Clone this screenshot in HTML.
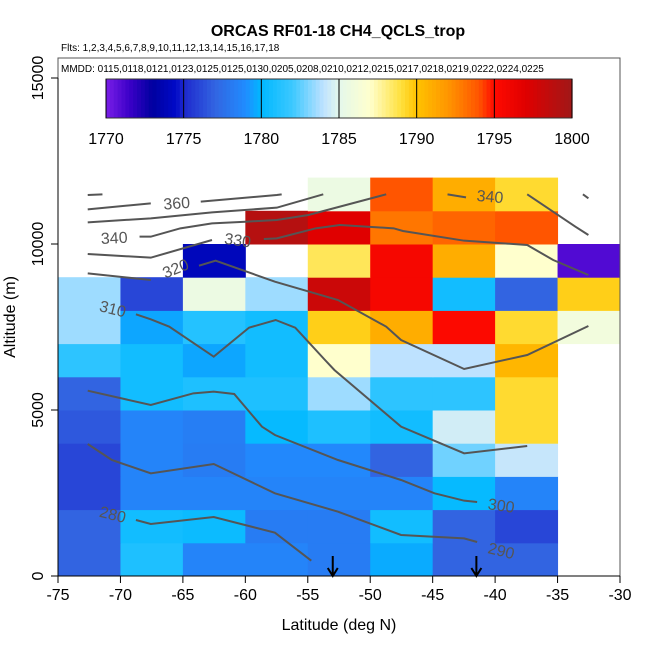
<!DOCTYPE html>
<html><head><meta charset="utf-8"><style>
body{margin:0;background:#fff;}
svg{display:block;font-family:"Liberation Sans",sans-serif;}
</style></head><body>
<svg id="chart" width="650" height="650" xmlns="http://www.w3.org/2000/svg">
<rect width="650" height="650" fill="#fff"/>
<text x="338" y="36" text-anchor="middle" font-size="16" font-weight="bold">ORCAS RF01-18 CH4_QCLS_trop</text>
<text x="61" y="51" font-size="10">Flts: 1,2,3,4,5,6,7,8,9,10,11,12,13,14,15,16,17,18</text>
<g id="cells"></g>
<g id="contours"></g>
<rect x="58" y="58" width="562" height="518" fill="none" stroke="#555" stroke-width="1"/>
<text x="61" y="72" font-size="10">MMDD: 0115,0118,0121,0123,0125,0125,0130,0205,0208,0210,0212,0215,0217,0218,0219,0222,0224,0225</text>
<g id="colorbar"></g>
<g id="axes"></g>
<text x="339" y="630" text-anchor="middle" font-size="16">Latitude (deg N)</text>
<text transform="translate(15,317) rotate(-90)" text-anchor="middle" font-size="16">Altitude (m)</text>
</svg>
<script>
const latBins = [-75,-70,-65,-60,-55,-50,-45,-40,-35];
const altBins = [0,1000,2000,3000,4000,5000,6000,7000,8000,9000,10000,11000];
// rows bottom (0-1km) to top (11-12km); null = no data
const ch4Rows = [
 [1777,1781,1778.6,1778.6,1778.2,1779.7,1777,1777,null],
 [1777,1780.6,1780.4,1778.2,1778.2,1780.6,1777,1776,null],
 [1776,1778.6,1778.6,1778.6,1778.6,1778.6,1780.2,1778.6,null],
 [1776,1778.6,1778.2,1778.8,1778.8,1777,1782.8,1784.2,null],
 [1776.6,1778.6,1778.3,1780.2,1781,1780.6,1784.5,1789.2,null],
 [1777,1780.6,1781,1781,1783.5,1781.5,1781.5,1789.2,null],
 [1781.5,1780.6,1779.6,1780.6,1787,1784,1784,1790.6,null],
 [1783.5,1779.6,1781.2,1780.6,1789.6,1791,1795.2,1789.2,1786],
 [1783.5,1776,1785.6,1783.5,1798,1795.6,1780.6,1777,1789.6],
 [null,null,1774,null,1788.6,1795.6,1791,1787,1771],
 [null,null,null,1799,1797,1793,1793.5,1794,null],
 [null,null,null,null,1785.6,1794,1791,1789.2,null]
];
const cbTicks = [1770,1775,1780,1785,1790,1795,1800];
const xTicks = [-75,-70,-65,-60,-55,-50,-45,-40,-35,-30];
const yTicks = [0,5000,10000,15000];
const arrowLats = [-53.0,-41.5];
const contourLines = [
 [[-72.62,11476],[-71.44,11496]],
 [[-72.62,11044],[-67.57,11225]],
 [[-63.57,11275],[-57.48,11476],[-57.09,11496]],
 [[-72.62,10652],[-67.57,10773],[-62.67,10954],[-57.48,11094],[-53.76,11496]],
 [[-68.47,10221],[-67.57,10221],[-65.2,10472],[-62.67,10622],[-60,10672],[-57.48,10723],[-54.95,10873],[-48.72,11496]],
 [[-72.62,9699],[-67.57,9588],[-62.67,10120]],
 [[-58.52,10150],[-57.48,10170],[-54.36,10472],[-52.43,10572],[-48.12,10472],[-47.38,10391],[-42.48,10100],[-37.43,9970],[-35.35,9518],[-32.53,9066]],
 [[-72.62,9116],[-67.57,8915]],
 [[-63.71,9347],[-62.38,9498],[-57.63,8865],[-52.58,8313],[-48.72,7510],[-47.53,7108],[-42.48,6235],[-37.43,6657],[-32.53,7530]],
 [[-68.76,7882],[-67.57,7731],[-66.09,7510],[-62.53,6606],[-59.7,7480],[-57.57,7711],[-56.0,7480],[-53.62,6506],[-52.87,6205],[-47.53,4498],[-42.48,3695],[-37.43,3916]],
 [[-72.62,5582],[-67.57,5150],[-64.16,5502],[-62.53,5552],[-60.89,5482],[-58.67,4498],[-57.63,4247],[-52.58,3494],[-47.53,2892],[-44.85,2490],[-42.48,2269],[-41.44,2229]],
 [[-72.62,3976],[-70.69,3494],[-67.57,3092],[-62.53,3373],[-57.63,2490],[-52.58,1938],[-47.53,1235],[-42.48,1134],[-41.44,1024]],
 [[-68.76,1687],[-67.57,1566],[-62.53,1777],[-57.63,1305],[-54.72,462]],
 [[-43.81,11496],[-42.33,11405]],
 [[-37.43,11496],[-33.57,10522],[-32.53,10271]],
 [[-32.97,11496],[-32.53,11375]]
];
const contourLabels = ["360","340","330","320","310","300","290","280","340"];
const labelPos = [[-65.5,11245,-4],[-70.5,10200,-3],[-60.6,10130,8],[-65.6,9276,-22],[-70.6,8062,14],[-39.5,2138,8],[-39.5,776,14],[-70.6,1868,14],[-40.4,11445,5]];

const NS="http://www.w3.org/2000/svg";
const X0=58,X1=620,Y0=576,Y1=78;
const xs = v => X0+(v+75)/45*(X1-X0);
const ys = v => Y0-v/15000*(Y0-Y1);
function mk(tag,attrs,parent){const e=document.createElementNS(NS,tag);for(const k in attrs)e.setAttribute(k,attrs[k]);parent.appendChild(e);return e;}
const stops=[[1770,[122,30,232]],[1771.5,[60,0,200]],[1773,[0,0,160]],[1774.5,[0,10,200]],[1775,[30,40,205]],[1777,[50,100,225]],[1779,[32,140,255]],[1780,[0,184,255]],[1782,[60,200,255]],[1784,[190,226,255]],[1785,[228,248,236]],[1787,[255,255,205]],[1789,[255,224,60]],[1790,[255,195,0]],[1792,[255,150,0]],[1794,[255,85,0]],[1795,[255,10,0]],[1797,[224,0,0]],[1800,[160,24,24]]];
function cmap(v){if(v<=stops[0][0])return 'rgb('+stops[0][1]+')';for(let i=1;i<stops.length;i++){if(v<=stops[i][0]){const a=stops[i-1],b=stops[i],t=(v-a[0])/(b[0]-a[0]);return 'rgb('+a[1].map((c,j)=>Math.round(c+(b[1][j]-c)*t)).join(',')+')';}}return 'rgb('+stops[stops.length-1][1]+')';}

const cells=document.getElementById('cells');
ch4Rows.forEach((row,r)=>row.forEach((v,c)=>{
 if(v===null)return;
 const x=xs(latBins[c]),x2=xs(latBins[c]+5),y=ys(altBins[r]+1000),y2=ys(altBins[r]);
 const e=mk('rect',{x:x,y:y,width:x2-x+0.5,height:y2-y+0.5,fill:cmap(v)},cells);
 
 
}));
const cg=document.getElementById('contours');
contourLines.forEach(l=>{
 const e=mk('polyline',{points:l.map(p=>xs(p[0])+','+ys(p[1])).join(' '),fill:'none',stroke:'#555','stroke-width':2},cg);
 
 
});
contourLabels.forEach((t,i)=>{
 const p=labelPos[i],x=xs(p[0]),y=ys(p[1]);
 const e=mk('text',{x:x,y:y+6,'text-anchor':'middle','font-size':16,fill:'#555',transform:'rotate('+p[2]+' '+x+' '+y+')'},cg);
 e.textContent=t;
 
 
});
arrowLats.forEach(a=>{
 const x=xs(a);
 const e=mk('path',{d:'M'+x+' 556 V575 M'+(x-5)+' 568 L'+x+' 576 L'+(x+5)+' 568',stroke:'#000','stroke-width':2,fill:'none'},cg);
 
 
});
// colorbar
const cb=document.getElementById('colorbar');
const CB0=106,CB1=572,CBT=79,CBB=118;
const cbx=v=>CB0+(v-1770)/30*(CB1-CB0);
for(let v=1770;v<1800;v+=0.25){
 const e=mk('rect',{x:cbx(v),y:CBT,width:(CB1-CB0)/120+0.6,height:CBB-CBT,fill:cmap(v+0.125)},cb);
 
 
}
const cbf=mk('rect',{x:CB0,y:CBT,width:CB1-CB0,height:CBB-CBT,fill:'none',stroke:'#333'},cb);


cbTicks.forEach(v=>{
 const l=mk('line',{x1:cbx(v),x2:cbx(v),y1:CBT,y2:CBB,stroke:'#000'},cb);
 
 
 const t=mk('text',{x:cbx(v),y:144,'text-anchor':'middle','font-size':16},cb);
 t.textContent=v;
 
 
});
// axes
const ax=document.getElementById('axes');
const xl=mk('line',{x1:X0,x2:X1,y1:576,y2:576,stroke:'#000'},ax);


xTicks.forEach(v=>{
 const l=mk('line',{x1:xs(v),x2:xs(v),y1:576,y2:583,stroke:'#000'},ax);
 
 
 const t=mk('text',{x:xs(v),y:600,'text-anchor':'middle','font-size':16},ax);
 t.textContent=v;
 
 
});
const yl=mk('line',{x1:X0,x2:X0,y1:ys(0),y2:ys(15000),stroke:'#000'},ax);


yTicks.forEach(v=>{
 const y=ys(v);
 const l=mk('line',{x1:51,x2:X0,y1:y,y2:y,stroke:'#000'},ax);
 
 
 const t=mk('text',{x:0,y:0,'text-anchor':'middle','font-size':16,transform:'translate(43,'+y+') rotate(-90)'},ax);
 t.textContent=v;
 
 
});
</script>
</body></html>
